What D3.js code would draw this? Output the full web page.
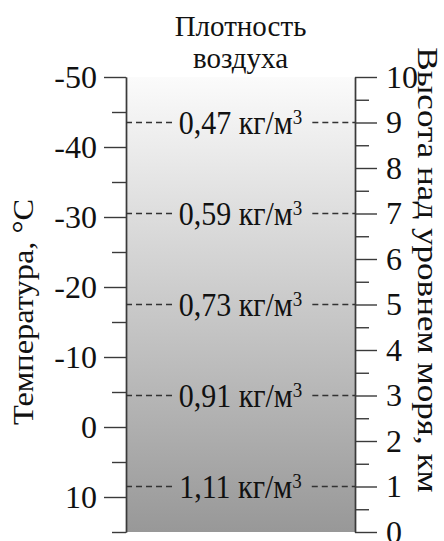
<!DOCTYPE html>
<head>
  <meta charset="utf-8" />
  <script src="https://d3js.org/d3.v7.min.js"></script>
</head>
<body style="margin:0">
  <script>
    // шкала температуры (слева) и высоты (справа)
    var tempMajor = [-50, -40, -30, -20, -10, 0, 10];
    var tempMinor = [-45, -35, -25, -15, -5, 5, 15];
    var heightMajor = [0, 1, 2, 3, 4, 5, 6, 7, 8, 9, 10];
    var heightMinor = [0.5, 1.5, 2.5, 3.5, 4.5, 5.5, 6.5, 7.5, 8.5, 9.5];
    // плотность воздуха на высотах
    var densityHeights = [9, 7, 5, 3, 1];
    var densityValues = ["0,47", "0,59", "0,73", "0,91", "1,11"];

    var FONT = "'Liberation Serif'";
    var width = 444, height = 541;
    var x0 = 126, x1 = 355, yTop = 77, yBot = 532;

    var svg = d3.select("body").append("svg")
      .attr("width", width).attr("height", height);

    var yH = d3.scaleLinear().domain([0, 10]).range([yBot, yTop]);
    var yT = d3.scaleLinear().domain([15, -50]).range([yBot, yTop]);

    // градиент
    var grad = svg.append("defs").append("linearGradient")
      .attr("id", "g1").attr("x1", 0).attr("y1", 0).attr("x2", 0).attr("y2", 1);
    grad.append("stop").attr("offset", "0%").attr("stop-color", "#fbfbfb");
    grad.append("stop").attr("offset", "100%").attr("stop-color", "#989898");

    svg.append("rect")
      .attr("x", x0).attr("y", yTop)
      .attr("width", x1 - x0).attr("height", yBot - yTop)
      .attr("fill", "url(#g1)");

    function styleAxis(g) {
      g.attr("font-family", null);
      g.selectAll("path, line").attr("stroke", "#3a3a3a").attr("stroke-width", 1.4);
      g.selectAll("text").style("font-family", FONT).attr("font-size", 32).attr("fill", "#111");
    }

    // левая ось
    svg.append("g").attr("transform", "translate(" + x0 + ",0)")
      .call(d3.axisLeft(yT).tickValues(tempMinor).tickSize(14).tickSizeOuter(0).tickFormat(""))
      .call(styleAxis);
    svg.append("g").attr("transform", "translate(" + x0 + ",0)")
      .call(d3.axisLeft(yT).tickValues(tempMajor).tickSize(22).tickSizeOuter(0).tickPadding(7)
        .tickFormat(d => String(d)))
      .call(styleAxis);

    // правая ось
    svg.append("g").attr("transform", "translate(" + x1 + ",0)")
      .call(d3.axisRight(yH).tickValues(heightMinor).tickSize(14).tickSizeOuter(0).tickFormat(""))
      .call(styleAxis);
    svg.append("g").attr("transform", "translate(" + x1 + ",0)")
      .call(d3.axisRight(yH).tickValues(heightMajor).tickSize(22).tickSizeOuter(0).tickPadding(9))
      .call(styleAxis);

    // подписи плотности
    var cx = (x0 + x1) / 2;
    densityHeights.forEach(function (h, i) {
      var y = yH(h);
      var t = svg.append("text")
        .attr("transform", "translate(" + cx + "," + y + ") scale(1,1.1)")
        .attr("y", 10)
        .attr("text-anchor", "middle")
        .style("font-family", FONT).attr("fill", "#111")
        .attr("font-size", 30);
      t.append("tspan").text(densityValues[i] + " кг/м");
      t.append("tspan").attr("font-size", 19).attr("dy", -9).text("3");
      var bb = t.node().getBBox();
      [[x0, cx + bb.x - 5], [cx + bb.x + bb.width + 10, x1]].forEach(function (s) {
        svg.append("line")
          .attr("x1", s[0]).attr("x2", s[1]).attr("y1", y).attr("y2", y)
          .attr("stroke", "#333").attr("stroke-width", 1.3)
          .attr("stroke-dasharray", "6,4");
      });
    });

    // заголовки
    function label(txt, tr, size) {
      return svg.append("text").attr("transform", tr)
        .attr("text-anchor", "middle").attr("font-size", size)
        .style("font-family", FONT).attr("fill", "#111").text(txt);
    }
    label("Плотность", "translate(" + cx + ",36)", 29);
    label("воздуха", "translate(" + cx + ",68)", 29);
    label("Температура, °С", "translate(33,312) rotate(-90) scale(1.08,1)", 30);
    label("Высота над уровнем моря, км", "translate(418,270) rotate(90) scale(1.17,1)", 30);
  </script>
</body>
